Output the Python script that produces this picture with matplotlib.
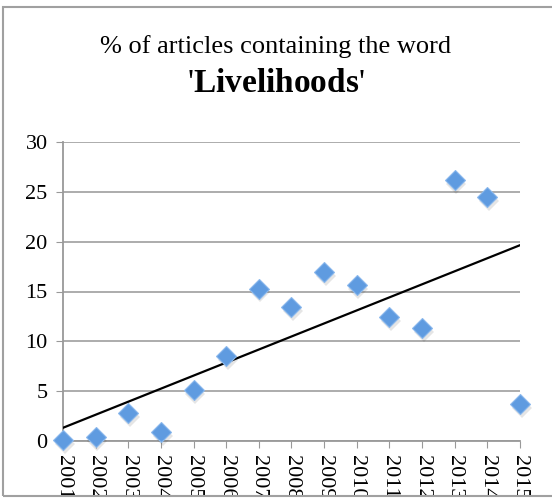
import numpy as np
import matplotlib.pyplot as plt
from matplotlib.patches import Rectangle

years = ["2001", "2002", "2003", "2004", "2005", "2006", "2007", "2008",
         "2009", "2010", "2011", "2012", "2013", "2014", "2015"]
pct_articles = [0.1, 0.4, 2.8, 0.9, 5.1, 8.5, 15.3, 13.4,
                17.0, 15.7, 12.4, 11.3, 26.2, 24.5, 3.7]

plt.rcParams["font.family"] = ["Liberation Serif", "DejaVu Serif"]
plt.rcParams["mathtext.fontset"] = "custom"
plt.rcParams["mathtext.rm"] = "Liberation Serif"
plt.rcParams["mathtext.bf"] = "Liberation Serif:bold"

W, H = 552, 498
fig = plt.figure(figsize=(W / 100, H / 100), dpi=100)

ax = fig.add_axes([63 / W, 57 / H, (520 - 63) / W, (441 - 142) / H])

x = np.arange(1, len(years) + 1)
y = np.array(pct_articles)

# linear trendline
slope, intercept = np.polyfit(x, y, 1)
ax.plot([x[0], x[-1]], [slope * x[0] + intercept, slope * x[-1] + intercept],
        color="black", linewidth=1.6, zorder=3)

# soft shadow under each marker
ax.plot(x + 0.05, y - 0.4, linestyle="none", marker="D", markersize=10.5,
        color="#000000", alpha=0.10, markeredgewidth=0, zorder=3,
        clip_on=False)
ax.plot(x, y, linestyle="none", marker="D", markersize=10,
        markerfacecolor="#5f9be0", markeredgecolor="#8ab8ec",
        markeredgewidth=0.8, zorder=4, clip_on=False)

ax.set_xlim(1, 15)
ax.set_ylim(0, 30)
ax.set_yticks(range(0, 31, 5))
ax.set_xticks(x)
ax.set_xticklabels(years, rotation=270, fontsize=16, va="top")
ax.tick_params(axis="y", labelsize=16, length=5, color="#999999", pad=6)
ax.tick_params(axis="x", length=5, color="#999999", pad=5)

ax.grid(axis="y", color="#a6a6a6", linewidth=1.3)
ax.set_axisbelow(True)
for side in ["top", "right"]:
    ax.spines[side].set_visible(False)
ax.spines["left"].set_color("#999999")
ax.spines["bottom"].set_color("#999999")
ax.spines["left"].set_linewidth(1.3)
ax.spines["bottom"].set_linewidth(1.3)

fig.text(0.5, 1 - 47 / H, "% of articles containing the word",
         ha="center", va="center", fontsize=19)
fig.text(0.5, 1 - 84 / H, "'$\\mathbf{Livelihoods}$'",
         ha="center", va="center", fontsize=24)

# chart frame; the year labels run past its bottom edge and get cut off
fig.add_artist(Rectangle((0, 0), 1, 2 / H, transform=fig.transFigure,
                         facecolor="white", edgecolor="none", zorder=10))
fig.add_artist(Rectangle((3 / W, 2 / H), 1.2, 1 - 9 / H,
                         transform=fig.transFigure, fill=False,
                         edgecolor="#a0a0a0", linewidth=1.5, zorder=11))

fig.savefig("out.png", dpi=100)
